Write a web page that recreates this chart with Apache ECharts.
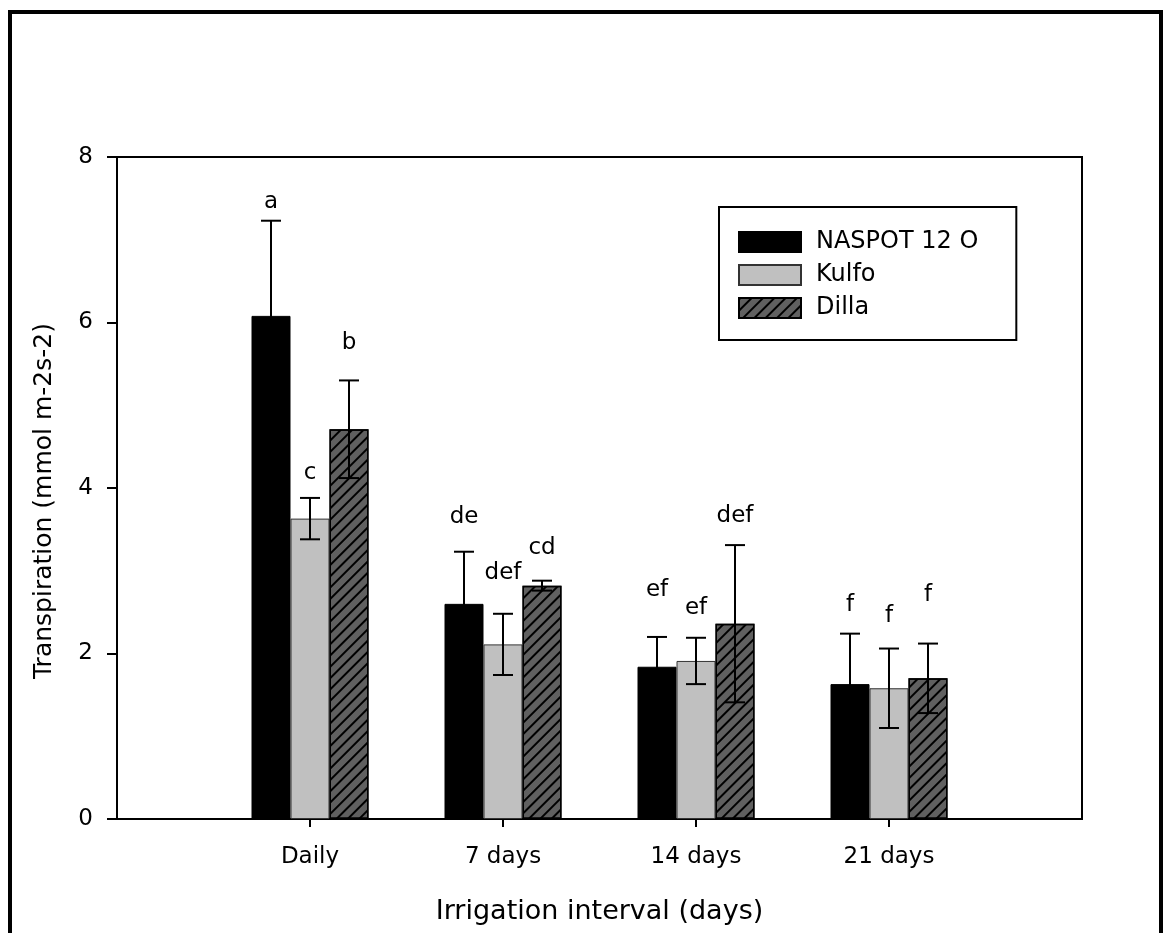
<!DOCTYPE html>
<html>
<head>
<meta charset="utf-8">
<script src="https://cdn.jsdelivr.net/npm/echarts@6/dist/echarts.min.js"></script>
<style>
  html, body { margin: 0; padding: 0; background: #fff; }
  #chart { width: 1165px; height: 933px; }
</style>
</head>
<body>
<div id="chart"></div>
<script>
// values
var categories = ['Daily', '7 days', '14 days', '21 days'];
var naspot = [6.08, 2.60, 1.84, 1.63];
var naspotErr = [1.15, 0.63, 0.36, 0.61];
var kulfo = [3.63, 2.11, 1.91, 1.58];
var kulfoErr = [0.25, 0.37, 0.28, 0.48];
var dilla = [4.71, 2.82, 2.36, 1.70];
var dillaErr = [0.59, 0.06, 0.95, 0.42];
// significance letters and the height (data units) where they sit
var naspotLetters = ['a', 'de', 'ef', 'f'];
var naspotLetterY = [7.46, 3.65, 2.77, 2.59];
var kulfoLetters = ['c', 'def', 'ef', 'f'];
var kulfoLetterY = [4.18, 2.97, 2.55, 2.45];
var dillaLetters = ['b', 'cd', 'def', 'f'];
var dillaLetterY = [5.75, 3.27, 3.66, 2.71];
var yTicks = [0, 2, 4, 6, 8];

var FONT = '"DejaVu Sans", sans-serif';
var BAR_W = 39;

// axis has an empty slot on each side of the four groups
var axisCats = [' '].concat(categories).concat(['  ']);
function pad(arr) {
  return [null].concat(arr).concat([null]);
}

function extras(name, vals, errs, letters, letterY, offset) {
  var rows = vals.map(function (v, i) {
    return [i + 1, v, errs[i], letterY[i]];
  });
  return {
    name: name + ' err',
    type: 'custom',
    z: 5,
    silent: true,
    data: rows,
    renderItem: function (params, api) {
      var idx = api.value(0);
      var v = api.value(1);
      var e = api.value(2);
      var top = api.coord([idx, v + e]);
      var bot = api.coord([idx, v - e]);
      var lab = api.coord([idx, api.value(3)]);
      var x = top[0] + offset;
      var st = { stroke: '#000', lineWidth: 2 };
      return {
        type: 'group',
        children: [
          { type: 'line', shape: { x1: x, y1: top[1], x2: x, y2: bot[1] }, style: st },
          { type: 'line', shape: { x1: x - 10, y1: top[1], x2: x + 10, y2: top[1] }, style: st },
          { type: 'line', shape: { x1: x - 10, y1: bot[1], x2: x + 10, y2: bot[1] }, style: st },
          {
            type: 'text',
            x: x, y: lab[1],
            style: {
              text: letters[params.dataIndex],
              fill: '#000',
              font: '23px ' + FONT,
              align: 'center',
              verticalAlign: 'middle'
            }
          }
        ]
      };
    }
  };
}

var chart = echarts.init(document.getElementById('chart'));

chart.setOption({
  backgroundColor: '#fff',
  animation: false,
  textStyle: { fontFamily: FONT, color: '#000' },
  graphic: [
    {
      type: 'rect',
      shape: { x: 10, y: 12, width: 1151, height: 1000 },
      style: { fill: 'none', stroke: '#000', lineWidth: 4 },
      z: 100
    }
  ],
  legend: {
    left: 719,
    top: 207,
    orient: 'vertical',
    data: ['NASPOT 12 O', 'Kulfo', 'Dilla'],
    icon: 'rect',
    itemWidth: 62,
    itemHeight: 20,
    itemGap: 9,
    padding: [23, 38, 20, 19],
    borderColor: '#000',
    borderWidth: 2,
    selectedMode: false,
    textStyle: { fontSize: 24, color: '#000', fontFamily: FONT, padding: [0, 0, 0, 10] }
  },
  grid: {
    left: 117,
    top: 157,
    width: 965,
    height: 662,
    show: true,
    borderColor: '#000',
    borderWidth: 2,
    outerBoundsMode: 'none'
  },
  xAxis: {
    type: 'category',
    data: axisCats,
    boundaryGap: false,
    name: 'Irrigation interval (days)',
    nameLocation: 'middle',
    nameGap: 79,
    nameTextStyle: { fontSize: 27, color: '#000', fontFamily: FONT },
    axisLine: { lineStyle: { color: '#000', width: 2 } },
    axisTick: {
      show: true,
      length: 8,
      lineStyle: { color: '#000', width: 2 },
      interval: function (index) { return index > 0 && index < axisCats.length - 1; }
    },
    axisLabel: { interval: 0, fontSize: 23, color: '#000', margin: 27, fontFamily: FONT },
    splitLine: { show: false }
  },
  yAxis: {
    type: 'value',
    min: yTicks[0],
    max: yTicks[yTicks.length - 1],
    interval: 2,
    name: 'Transpiration (mmol m-2s-2)',
    nameLocation: 'middle',
    nameGap: 60,
    nameTextStyle: { fontSize: 25, color: '#000', fontFamily: FONT, padding: [0, 26, 0, 0] },
    axisLine: { show: true, lineStyle: { color: '#000', width: 2 } },
    axisTick: { show: true, length: 10, lineStyle: { color: '#000', width: 2 } },
    axisLabel: { fontSize: 23, color: '#000', margin: 24, fontFamily: FONT },
    splitLine: { show: false }
  },
  series: [
    {
      name: 'NASPOT 12 O',
      type: 'bar',
      barWidth: BAR_W,
      barGap: '0%',
      data: pad(naspot),
      itemStyle: { color: '#000', borderColor: '#000', borderWidth: 1 }
    },
    {
      name: 'Kulfo',
      type: 'bar',
      barWidth: BAR_W,
      barGap: '0%',
      data: pad(kulfo),
      itemStyle: { color: '#c0c0c0', borderColor: '#333', borderWidth: 1 }
    },
    {
      name: 'Dilla',
      type: 'bar',
      barWidth: BAR_W,
      barGap: '0%',
      data: pad(dilla),
      itemStyle: {
        color: '#606060',
        borderColor: '#000',
        borderWidth: 1.5,
        decal: {
          symbol: 'rect',
          symbolSize: 1,
          color: '#000',
          dashArrayX: [1, 0],
          dashArrayY: [1.5, 5.5],
          rotation: -Math.PI / 4
        }
      }
    },
    extras('NASPOT 12 O', naspot, naspotErr, naspotLetters, naspotLetterY, -BAR_W),
    extras('Kulfo', kulfo, kulfoErr, kulfoLetters, kulfoLetterY, 0),
    extras('Dilla', dilla, dillaErr, dillaLetters, dillaLetterY, BAR_W)
  ]
});
</script>
</body>
</html>
